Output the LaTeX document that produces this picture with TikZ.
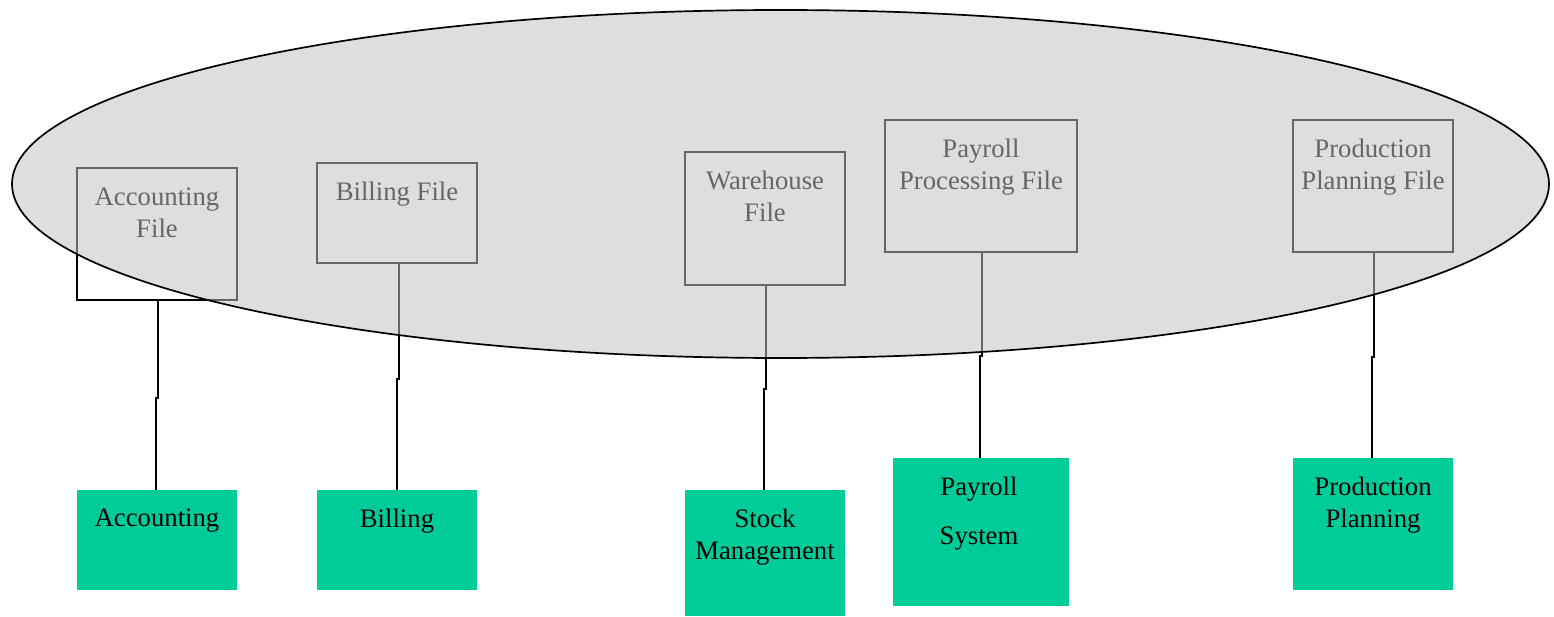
\documentclass[tikz,border=0pt]{standalone}
\usepackage{fontspec}
\setmainfont{Liberation Serif}
\usetikzlibrary{shapes.geometric}
\definecolor{appgreen}{RGB}{0,204,153}
\definecolor{storefill}{RGB}{193,193,193}
\tikzset{
  filebox/.style={draw=black, line width=1.7pt, fill=none, inner sep=0pt},
  appbox/.style={fill=appgreen, draw=none, inner sep=0pt},
  lbl/.style={align=center, inner sep=0pt, font=\fontsize{26.7}{32}\selectfont},
  conn/.style={draw=black, line width=1.7pt},
  store/.style={ellipse, draw=black, line width=1.7pt, fill=storefill, fill opacity=0.53, inner sep=0pt}
}
\begin{document}
\begin{tikzpicture}[x=1pt, y=-1pt]
\useasboundingbox (0,0) rectangle (1554,617);

% file boxes held in the shared data store
\node[filebox, minimum width=160, minimum height=132] (accf) at (157,234) {};
\node[lbl] (accft) at (157,212.5) {Accounting\\File};
\node[filebox, minimum width=160, minimum height=100] (billf) at (397,213) {};
\node[lbl] (billft) at (397,194) {Billing File};
\node[filebox, minimum width=160, minimum height=133] (waref) at (765,218.5) {};
\node[lbl] (wareft) at (765,196) {Warehouse\\File};
\node[filebox, minimum width=192, minimum height=132] (payf) at (981,186) {};
\node[lbl] (payft) at (981,167.5) {Payroll\\Processing File};
\node[filebox, minimum width=160, minimum height=132] (prodf) at (1373,186) {};
\node[lbl] (prodft) at (1373,167.5) {Production\\Planning File};

% application systems
\node[appbox, minimum width=160, minimum height=100] (acc) at (157,540) {};
\node[lbl] (acct) at (157,521) {Accounting};
\node[appbox, minimum width=160, minimum height=100] (bill) at (397,540) {};
\node[lbl] (billt) at (397,521) {Billing};
\node[appbox, minimum width=160, minimum height=126] (stock) at (765,553) {};
\node[lbl] (stockt) at (765,537) {Stock\\Management};
\node[appbox, minimum width=176, minimum height=148] (pay) at (981,532) {};
\node[lbl] (payt) at (979,513.5) {Payroll\\[17pt]System};
\node[appbox, minimum width=160, minimum height=132] (prod) at (1373,524) {};
\node[lbl] (prodt) at (1373,505) {Production\\Planning};

% links from each file to its application
\draw[conn] ([xshift=1pt]accf.south) -- ++(0,97) -| ([xshift=-1pt]acc.north);
\draw[conn] ([xshift=2pt]billf.south) -- ++(0,115) -| (bill.north);
\draw[conn] ([xshift=1pt]waref.south) -- ++(0,103) -| ([xshift=-1pt]stock.north);
\draw[conn] ([xshift=1pt]payf.south) -- ++(0,103) -| ([xshift=-1pt]pay.north);
\draw[conn] ([xshift=1pt]prodf.south) -- ++(0,104) -| ([xshift=-1pt]prod.north);

% translucent data store drawn over the files
\node[store, minimum width=1537, minimum height=348] (db) at (780.5,184) {};
\end{tikzpicture}
\end{document}
